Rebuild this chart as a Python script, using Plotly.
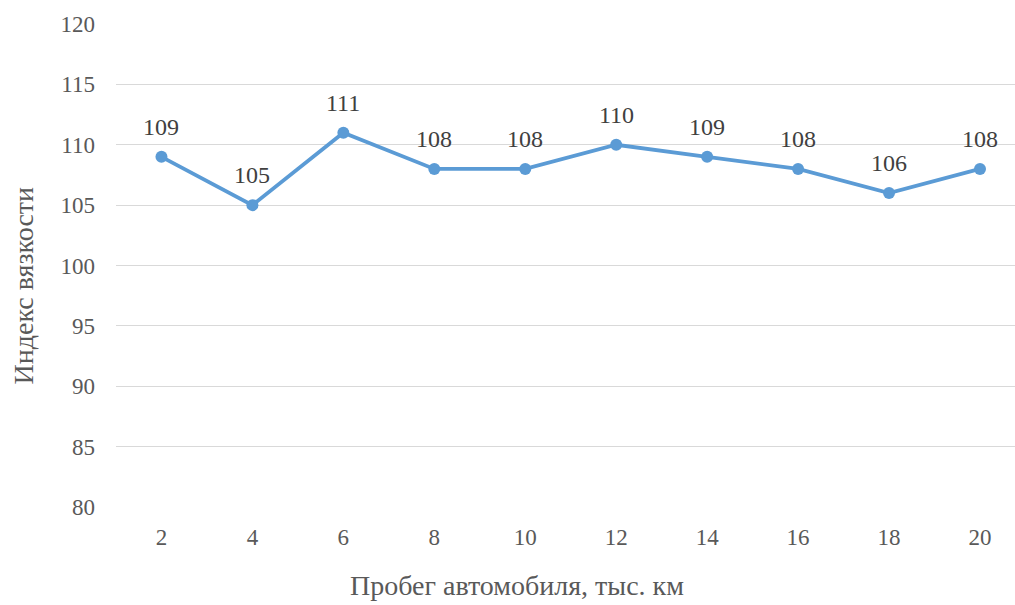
import plotly.graph_objects as go

mileage = [2, 4, 6, 8, 10, 12, 14, 16, 18, 20]
viscosity_index = [109, 105, 111, 108, 108, 110, 109, 108, 106, 108]
y_ticks = [80, 85, 90, 95, 100, 105, 110, 115, 120]
x_title = "Пробег автомобиля, тыс. км"
y_title = "Индекс вязкости"

FONT = "Liberation Serif"

fig = go.Figure()
fig.add_trace(go.Scatter(
    x=mileage, y=viscosity_index,
    mode="lines+markers",
    line=dict(color="#5b9bd5", width=3.8),
    marker=dict(color="#5b9bd5", size=12),
    showlegend=False,
))

for xv, yv in zip(mileage, viscosity_index):
    fig.add_annotation(
        x=xv, y=yv, text=str(yv), showarrow=False,
        xanchor="center", yanchor="middle", yshift=30,
        font=dict(family=FONT, size=24, color="#404040"),
    )

# axis titles (positioned as in the reference, slightly off-centre)
fig.add_annotation(
    xref="paper", yref="paper", x=0, y=0.5, xshift=-93, yshift=-20,
    text=y_title, textangle=-90, showarrow=False,
    xanchor="center", yanchor="middle",
    font=dict(family=FONT, size=28, color="#595959"),
)
fig.add_annotation(
    xref="paper", yref="paper", x=0.5, y=0, xshift=-49, yshift=-78,
    text=x_title, showarrow=False,
    xanchor="center", yanchor="middle",
    font=dict(family=FONT, size=28, color="#595959"),
)

fig.update_layout(
    width=1015, height=605,
    margin=dict(l=116, r=0, t=24, b=98),
    paper_bgcolor="white", plot_bgcolor="white",
    font=dict(family=FONT, color="#595959"),
)
fig.update_xaxes(
    range=[1.0, 20.77],
    tickvals=mileage,
    ticktext=[str(m) for m in mileage],
    showgrid=False, zeroline=False, showline=False,
    tickfont=dict(family=FONT, size=23, color="#595959"),
    ticks="", ticklabelstandoff=14,
)
fig.update_yaxes(
    range=[80, 120],
    tickvals=y_ticks,
    showgrid=True, gridcolor="#d9d9d9", gridwidth=1,
    zeroline=False, showline=False,
    tickfont=dict(family=FONT, size=23, color="#595959"),
    ticks="", ticklabelstandoff=20,
)

fig.write_html("out.html")
